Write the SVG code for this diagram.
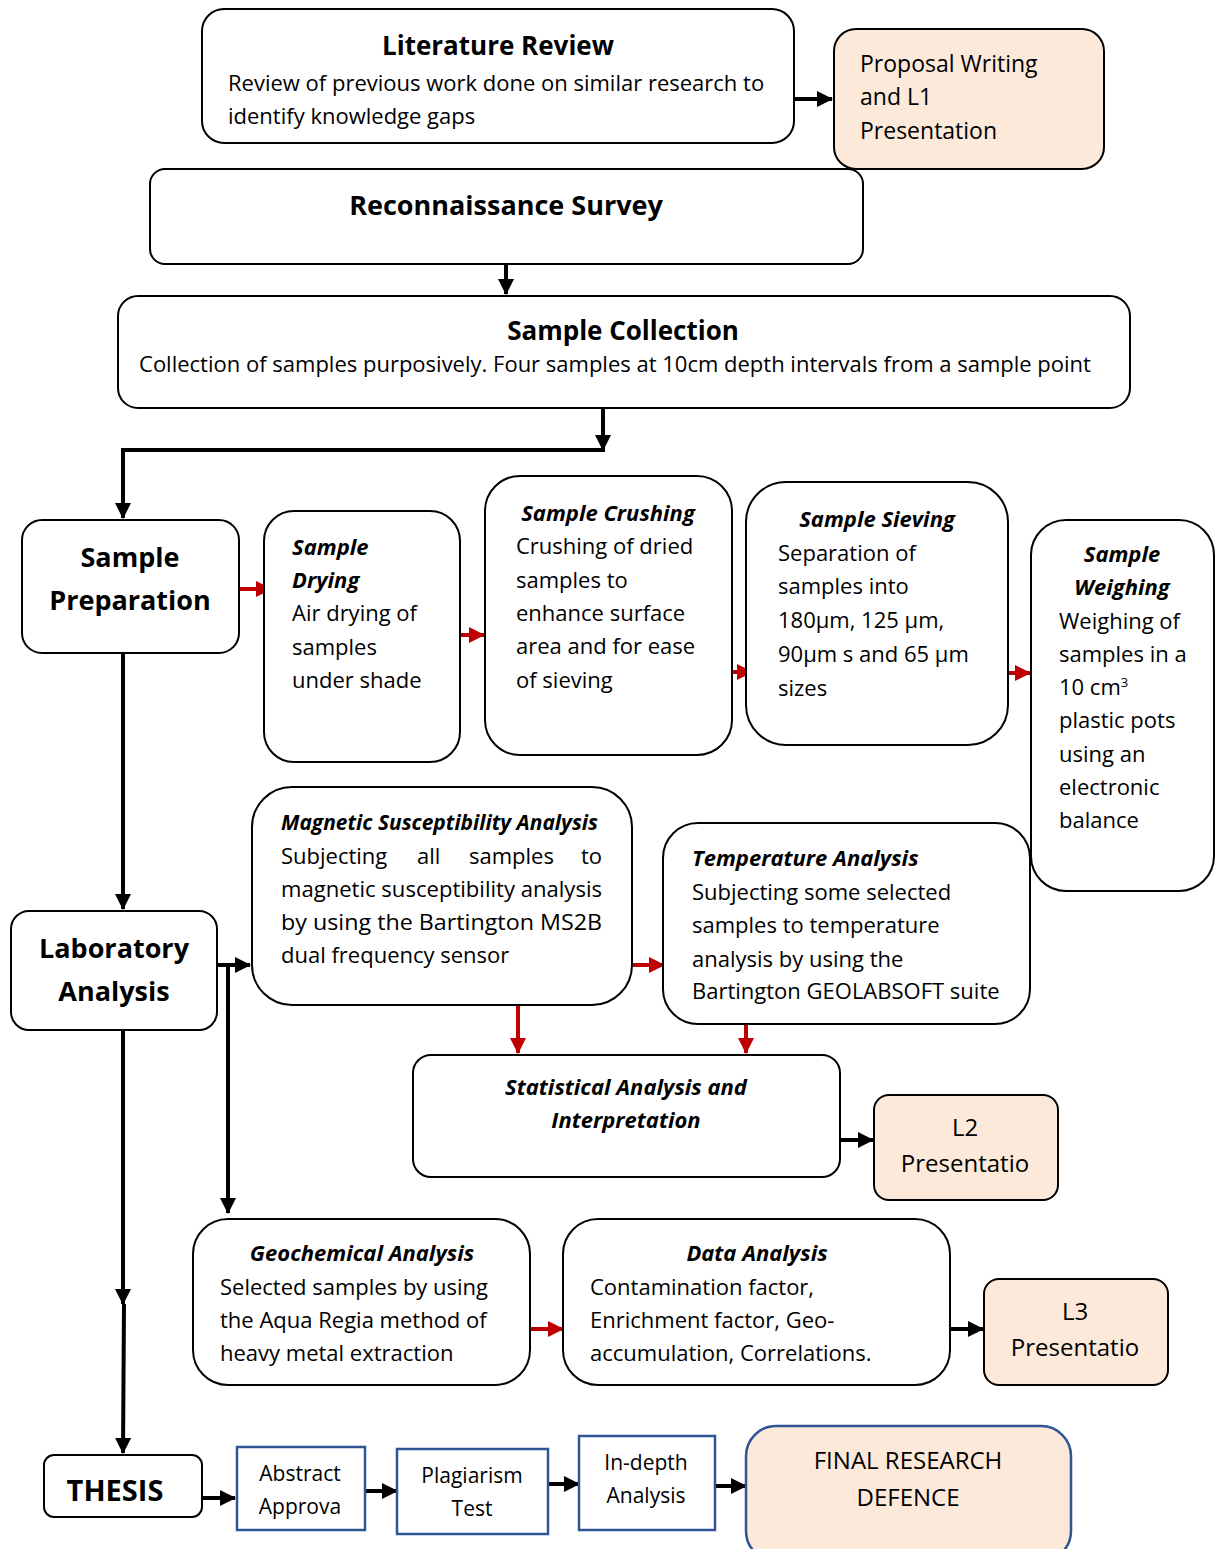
<svg xmlns="http://www.w3.org/2000/svg" width="1217" height="1549" viewBox="0 0 1217 1549">
<style>
text{font-family:"Open Sans","Noto Sans","Liberation Sans",sans-serif;font-size:22px;fill:#000}
.bi{font-weight:bold;font-style:italic}
.t{font-size:26px;font-weight:bold}
.big{font-size:27px;font-weight:bold}
.c{text-anchor:middle}
.s{font-size:21px}
.p{font-size:24px}
.box{fill:#fff;stroke:#000;stroke-width:2}
.peach{fill:#fde9d9;stroke:#000;stroke-width:2}
.blue{fill:#fff;stroke:#2f5597;stroke-width:2.5}
.bluep{fill:#fde9d9;stroke:#2f5597;stroke-width:2.5}
.k{stroke:#000;stroke-width:4;fill:none}
.r{stroke:#c00000;stroke-width:4;fill:none}
</style>
<defs>
<marker id="ak" markerUnits="userSpaceOnUse" markerWidth="16" markerHeight="16" refX="15" refY="8" orient="auto"><path d="M0,0 L16,8 L0,16 z" fill="#000"/></marker>
<marker id="ar" markerUnits="userSpaceOnUse" markerWidth="16" markerHeight="16" refX="15" refY="8" orient="auto"><path d="M0,0 L16,8 L0,16 z" fill="#c00000"/></marker>
</defs>

<g id="connectors">
<path class="k" d="M794,99 H832" marker-end="url(#ak)"/>
<path class="k" d="M506,264 V294" marker-end="url(#ak)"/>
<path class="k" d="M603,408 V450"  marker-end="url(#ak)"/>
<path class="k" d="M605,450 H123 V518" marker-end="url(#ak)"/>
<path class="r" d="M239,589 H271" marker-end="url(#ar)"/>
<path class="r" d="M460,635 H484" marker-end="url(#ar)"/>
<path class="r" d="M732,672 H752" marker-end="url(#ar)"/>
<path class="r" d="M1008,673 H1030" marker-end="url(#ar)"/>
<path class="k" d="M123,634 V909" marker-end="url(#ak)"/>
<path class="k" d="M217,965 H250" marker-end="url(#ak)"/>
<path class="k" d="M228,965 V1213" marker-end="url(#ak)"/>
<path class="r" d="M632,965 H664" marker-end="url(#ar)"/>
<path class="r" d="M518,1005 V1053" marker-end="url(#ar)"/>
<path class="r" d="M746,1024 V1053" marker-end="url(#ar)"/>
<path class="k" d="M840,1140 H873" marker-end="url(#ak)"/>
<path class="r" d="M530,1329 H563" marker-end="url(#ar)"/>
<path class="k" d="M950,1329 H983" marker-end="url(#ak)"/>
<path class="k" d="M123,1030 V1304" marker-end="url(#ak)"/>
<path class="k" d="M124,1304 L123,1453" marker-end="url(#ak)"/>
<path class="k" d="M202,1498 H235" marker-end="url(#ak)"/>
<path class="k" d="M365,1491 H397" marker-end="url(#ak)"/>
<path class="k" d="M548,1484 H579" marker-end="url(#ak)"/>
<path class="k" d="M715,1486 H746" marker-end="url(#ak)"/>
</g>

<g id="literature-review">
<rect class="box" x="202" y="9" width="592" height="134" rx="22"/>
<text class="t c" x="498" y="55">Literature Review</text>
<text x="228" y="91">Review of previous work done on similar research to</text>
<text x="228" y="124">identify knowledge gaps</text>
</g>

<g id="proposal">
<rect class="peach" x="834" y="29" width="270" height="140" rx="22"/>
<text x="860" y="72" style="font-size:23px">Proposal Writing</text>
<text x="860" y="105" style="font-size:23px">and L1</text>
<text x="860" y="139" style="font-size:23px">Presentation</text>
</g>

<g id="reconnaissance">
<rect class="box" x="150" y="169" width="713" height="95" rx="15"/>
<text class="c" x="506" y="215" style="font-size:27px;font-weight:bold">Reconnaissance Survey</text>
</g>

<g id="sample-collection">
<rect class="box" x="118" y="296" width="1012" height="112" rx="20"/>
<text class="t c" x="623" y="340">Sample Collection</text>
<text class="c" x="615" y="372">Collection of samples purposively. Four samples at 10cm depth intervals from a sample point</text>
</g>

<g id="sample-preparation">
<rect class="box" x="22" y="520" width="217" height="133" rx="20"/>
<text class="big c" x="130" y="567">Sample</text>
<text class="big c" x="130" y="610">Preparation</text>
</g>

<g id="sample-drying">
<rect class="box" x="264" y="511" width="196" height="251" rx="30"/>
<text class="bi" x="292" y="555">Sample</text>
<text class="bi" x="292" y="588">Drying</text>
<text x="292" y="621">Air drying of</text>
<text x="292" y="655">samples</text>
<text x="292" y="688">under shade</text>
</g>

<g id="sample-crushing">
<rect class="box" x="485" y="476" width="247" height="279" rx="35"/>
<text class="bi c" x="608" y="521">Sample Crushing</text>
<text x="516" y="554">Crushing of dried</text>
<text x="516" y="588">samples to</text>
<text x="516" y="621">enhance surface</text>
<text x="516" y="654">area and for ease</text>
<text x="516" y="688">of sieving</text>
</g>

<g id="sample-sieving">
<rect class="box" x="746" y="482" width="262" height="263" rx="40"/>
<text class="bi c" x="877" y="527">Sample Sieving</text>
<text x="778" y="561">Separation of</text>
<text x="778" y="594">samples into</text>
<text x="778" y="628">180μm, 125 μm,</text>
<text x="778" y="662">90μm s and 65 μm</text>
<text x="778" y="696">sizes</text>
</g>

<g id="sample-weighing">
<rect class="box" x="1031" y="520" width="183" height="371" rx="35"/>
<text class="bi c" x="1122" y="562">Sample</text>
<text class="bi c" x="1122" y="595">Weighing</text>
<text x="1059" y="629">Weighing of</text>
<text x="1059" y="662">samples in a</text>
<text x="1059" y="695">10 cm<tspan dy="-8" style="font-size:13px">3</tspan></text>
<text x="1059" y="728">plastic pots</text>
<text x="1059" y="762">using an</text>
<text x="1059" y="795">electronic</text>
<text x="1059" y="828">balance</text>
</g>

<g id="laboratory-analysis">
<rect class="box" x="11" y="911" width="206" height="119" rx="18"/>
<text class="big c" x="114" y="958">Laboratory</text>
<text class="big c" x="114" y="1001">Analysis</text>
</g>

<g id="magnetic-susceptibility">
<rect class="box" x="252" y="787" width="380" height="218" rx="40"/>
<text class="bi" x="281" y="830" textLength="317" lengthAdjust="spacingAndGlyphs">Magnetic Susceptibility Analysis</text>
<text x="281" y="864">Subjecting</text><text x="417" y="864">all</text><text x="469" y="864">samples</text><text x="602" y="864" style="text-anchor:end">to</text>
<text x="281" y="897" textLength="321" lengthAdjust="spacingAndGlyphs">magnetic susceptibility analysis</text>
<text x="281" y="930" textLength="321" lengthAdjust="spacingAndGlyphs">by using the Bartington MS2B</text>
<text x="281" y="963">dual frequency sensor</text>
</g>

<g id="temperature-analysis">
<rect class="box" x="663" y="823" width="367" height="201" rx="35"/>
<text class="bi" x="692" y="866">Temperature Analysis</text>
<text x="692" y="900">Subjecting some selected</text>
<text x="692" y="933">samples to temperature</text>
<text x="692" y="967">analysis by using the</text>
<text x="692" y="999">Bartington GEOLABSOFT suite</text>
</g>

<g id="statistical-analysis">
<rect class="box" x="413" y="1055" width="427" height="122" rx="18"/>
<text class="bi c" x="626" y="1095">Statistical Analysis and</text>
<text class="bi c" x="626" y="1128">Interpretation</text>
</g>

<g id="l2-presentation">
<rect class="peach" x="874" y="1095" width="184" height="105" rx="15"/>
<text class="c p" x="965" y="1136">L2</text>
<text class="c p" x="965" y="1172">Presentatio</text>
</g>

<g id="geochemical-analysis">
<rect class="box" x="193" y="1219" width="337" height="166" rx="35"/>
<text class="bi c" x="362" y="1261">Geochemical Analysis</text>
<text x="220" y="1295">Selected samples by using</text>
<text x="220" y="1328">the Aqua Regia method of</text>
<text x="220" y="1361">heavy metal extraction</text>
</g>

<g id="data-analysis">
<rect class="box" x="563" y="1219" width="387" height="166" rx="35"/>
<text class="bi c" x="757" y="1261">Data Analysis</text>
<text x="590" y="1295">Contamination factor,</text>
<text x="590" y="1328">Enrichment factor, Geo-</text>
<text x="590" y="1361">accumulation, Correlations.</text>
</g>

<g id="l3-presentation">
<rect class="peach" x="984" y="1279" width="184" height="106" rx="15"/>
<text class="c p" x="1075" y="1320">L3</text>
<text class="c p" x="1075" y="1356">Presentatio</text>
</g>

<g id="thesis">
<rect class="box" x="44" y="1455" width="158" height="62" rx="10"/>
<text class="c" x="115" y="1501" style="font-size:29px;font-weight:bold">THESIS</text>
</g>

<g id="abstract-approval">
<rect class="blue" x="237" y="1447" width="128" height="83"/>
<text class="c s" x="300" y="1481">Abstract</text>
<text class="c s" x="300" y="1514">Approva</text>
</g>

<g id="plagiarism-test">
<rect class="blue" x="397" y="1449" width="151" height="85"/>
<text class="c s" x="472" y="1483">Plagiarism</text>
<text class="c s" x="472" y="1516">Test</text>
</g>

<g id="in-depth-analysis">
<rect class="blue" x="579" y="1436" width="136" height="94"/>
<text class="c s" x="646" y="1470">In-depth</text>
<text class="c s" x="646" y="1503">Analysis</text>
</g>

<g id="final-defence">
<rect class="bluep" x="746" y="1426" width="325" height="135" rx="30"/>
<text class="c p" x="908" y="1469">FINAL RESEARCH</text>
<text class="c p" x="908" y="1506">DEFENCE</text>
</g>
</svg>
